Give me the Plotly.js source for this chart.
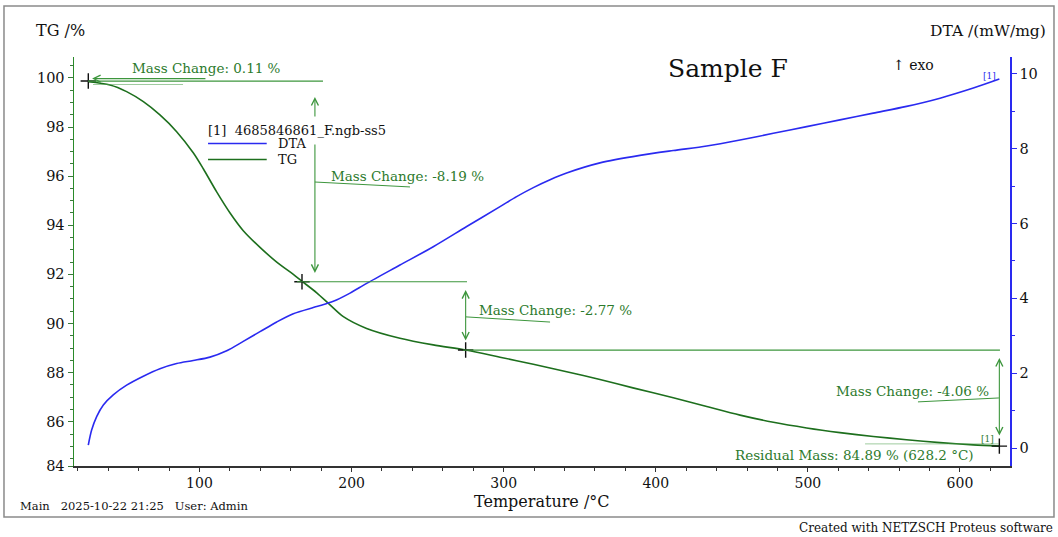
<!DOCTYPE html>
<html>
<head>
<meta charset="utf-8">
<script src="https://cdn.plot.ly/plotly-3.0.1.min.js"></script>
<style>
html,body{margin:0;padding:0;background:#ffffff;}
#chart{width:1058px;height:537px;}
</style>
</head>
<body>
<div id="chart"></div>
<script>
// ---- data ----
const tgTemp = [26.9, 41.2, 52.1, 63.1, 74.0, 85.0, 95.9, 102.5, 111.3, 120.1, 128.8, 139.8, 150.8, 161.7, 167.4, 177.1, 185.8, 194.6, 209.9, 231.8, 253.7, 275.0, 297.6, 319.5, 341.4, 363.3, 385.0, 411.5, 433.5, 455.4, 477.3, 499.2, 521.1, 543.0, 564.9, 586.9, 608.8, 625.9];
const tgMass = [99.84, 99.71, 99.44, 99.03, 98.49, 97.81, 96.95, 96.30, 95.36, 94.50, 93.78, 93.10, 92.50, 92.00, 91.72, 91.25, 90.76, 90.28, 89.80, 89.40, 89.13, 88.92, 88.63, 88.34, 88.04, 87.72, 87.38, 86.98, 86.62, 86.27, 85.98, 85.75, 85.56, 85.40, 85.27, 85.15, 85.06, 85.01];
const dtaTemp = [26.9, 29.1, 32.4, 36.8, 43.3, 52.1, 63.1, 74.0, 85.0, 95.9, 106.9, 117.9, 128.8, 139.8, 150.8, 161.7, 177.1, 188.0, 199.0, 209.9, 231.8, 253.7, 275.7, 297.6, 308.5, 319.5, 330.5, 341.4, 363.3, 389.6, 411.5, 433.5, 455.4, 477.3, 499.2, 521.1, 543.0, 564.9, 586.9, 608.8, 625.9];
const dtaSignal = [0.08, 0.48, 0.84, 1.15, 1.42, 1.68, 1.92, 2.12, 2.26, 2.34, 2.43, 2.60, 2.85, 3.11, 3.37, 3.59, 3.78, 3.92, 4.14, 4.40, 4.89, 5.38, 5.92, 6.45, 6.72, 6.96, 7.17, 7.35, 7.62, 7.82, 7.95, 8.07, 8.23, 8.41, 8.59, 8.77, 8.95, 9.13, 9.35, 9.62, 9.86];
const stepTemp = [26.9, 167.4, 275.0, 625.9];
const stepMass = [99.87, 91.70, 88.92, 85.01];
const massChange = ['0.11', '-8.19', '-2.77', '-4.06'];
const residualMass = '84.89';
const residualTemp = '628.2';
const tempTicks = [100, 200, 300, 400, 500, 600];
const tgTicks = [84, 86, 88, 90, 92, 94, 96, 98, 100];
const dtaTicks = [0, 2, 4, 6, 8, 10];
const seriesNames = ['DTA', 'TG'];
const fileName = '4685846861_F.ngb-ss5';
const sampleName = 'Sample F';

// ---- styling ----
const SERIF = '"DejaVu Serif", "Liberation Serif", serif';
const TG_COLOR = '#1d6f1d';
const DTA_COLOR = '#2a2af0';
const ANN_COLOR = '#2c7a2c';
const CON_COLOR = '#3d963d';
const xRange = [17.5, 632.9];
const tgRange = [84.2, 100.85];
const dtaRange = [-0.48, 10.45];

const traces = [
  {x: dtaTemp, y: dtaSignal, yaxis: 'y2', type: 'scatter', mode: 'lines', name: seriesNames[0],
   line: {color: DTA_COLOR, width: 1.6, shape: 'spline', smoothing: 0.8}},
  {x: tgTemp, y: tgMass, yaxis: 'y', type: 'scatter', mode: 'lines', name: seriesNames[1],
   line: {color: TG_COLOR, width: 1.6, shape: 'spline', smoothing: 0.8}},
  {x: stepTemp, y: stepMass, yaxis: 'y', type: 'scatter', mode: 'markers', name: 'steps',
   marker: {symbol: 'cross-thin', size: 11, line: {color: '#111111', width: 1.4}}}
];

function hline(y, x0, x1, color, width) {
  return {type: 'line', xref: 'x', yref: 'y', x0: x0, x1: x1, y0: y, y1: y,
          line: {color: color || CON_COLOR, width: width || 1.2}};
}
function seg(x0, y0, x1, y1, color) {
  return {type: 'line', xref: 'x', yref: 'y', x0: x0, x1: x1, y0: y0, y1: y1,
          line: {color: color || CON_COLOR, width: 1}};
}
function legendLine(y, color) {
  return {type: 'line', xref: 'paper', yref: 'paper', x0: 0.1432, x1: 0.2059, y0: y, y1: y,
          line: {color: color, width: 1.6}};
}
const shapes = [
  // outer frame
  {type: 'rect', xref: 'paper', yref: 'paper', x0: -0.0748, x1: 1.0470, y0: -0.1247, y1: 1.1247,
   line: {color: '#8a8a8a', width: 1.5}, fillcolor: 'rgba(0,0,0,0)'},
  hline(stepMass[0], 26.7, 181.2),
  seg(30.0, 99.73, 89.2, 99.73, 'rgba(80,160,80,0.55)'),
  hline(stepMass[1], 164.1, 275.9),
  hline(stepMass[2], 273.3, 626.3),
  seg(175.9, 95.76, 238.4, 95.56),
  seg(275.2, 90.27, 330.5, 90.06),
  seg(625.6, 86.97, 572.4, 86.81),
  seg(537.6, 85.10, 625.6, 85.10, 'rgba(80,160,80,0.55)'),
  // legend sample lines
  legendLine(0.7885, DTA_COLOR),
  legendLine(0.7494, TG_COLOR)
];

function arrow(x, yHead, yTail, both) {
  return {xref: 'x', yref: 'y', axref: 'x', ayref: 'y', x: x, y: yHead, ax: x, ay: yTail,
          text: '', showarrow: true, arrowhead: 5, startarrowhead: 5, arrowsize: 1.25, startarrowsize: 1.25,
          arrowwidth: 1.1, arrowcolor: CON_COLOR, arrowside: both ? 'end+start' : 'end', standoff: 0, startstandoff: 0};
}
function label(text, x, y, xanchor, opts) {
  return Object.assign({xref: 'x', yref: 'y', x: x, y: y, text: text, showarrow: false,
          xanchor: xanchor, yanchor: 'middle', font: {family: SERIF, size: 13.5, color: ANN_COLOR}}, opts || {});
}
function ptext(text, x, y, xanchor, size, color) {
  return {xref: 'paper', yref: 'paper', x: x, y: y, text: text, showarrow: false,
          xanchor: xanchor, yanchor: 'middle', font: {family: SERIF, size: size, color: color || '#111111'}};
}

const annotations = [
  // mass change 1 (start)
  label('Mass Change: ' + massChange[0] + ' %', 104.9, 100.40, 'center'),
  {xref: 'x', yref: 'y', axref: 'x', ayref: 'y', x: 29.4, y: 99.97, ax: 104.9, ay: 99.97, text: '', showarrow: true,
   arrowhead: 5, arrowsize: 1.25, arrowwidth: 1.1, arrowcolor: CON_COLOR, standoff: 0},
  // mass change 2
  arrow(175.9, 99.22, 98.37, false),
  arrow(175.9, 92.06, 97.35, false),
  label('Mass Change: ' + massChange[1] + ' %', 185.1, 96.0, 'left'),
  // mass change 3
  arrow(275.0, 91.36, 89.25, true),
  label('Mass Change: ' + massChange[2] + ' %', 282.3, 90.55, 'left'),
  // mass change 4
  arrow(625.9, 88.60, 85.38, true),
  label('Mass Change: ' + massChange[3] + ' %', 620.2, 87.27, 'right'),
  // residual
  label('Residual Mass: ' + residualMass + ' % (' + residualTemp + ' °C)', 610.5, 84.65, 'right'),
  label('[1]', 618.4, 85.28, 'center', {font: {family: SERIF, size: 9, color: ANN_COLOR}}),
  {xref: 'x', yref: 'y2', x: 619.7, y: 9.95, text: '[1]', showarrow: false, xanchor: 'center', yanchor: 'middle',
   font: {family: SERIF, size: 9, color: DTA_COLOR}},
  // legend texts
  ptext('[1]  ' + fileName, 0.1415, 0.8215, 'left', 13),
  ptext(seriesNames[0], 0.2158, 0.7885, 'left', 13),
  ptext(seriesNames[1], 0.2158, 0.7494, 'left', 13),
  // titles and texts
  ptext('TG /%', -0.0139, 1.0636, 'center', 16),
  ptext('DTA /(mW/mg)', 1.0406, 1.0636, 'right', 15.5),
  ptext('Temperature /°C', 0.5, -0.0856, 'center', 16),
  ptext(sampleName, 0.6987, 0.9731, 'center', 25),
  ptext('↑ exo', 0.8974, 0.9804, 'center', 14),
  ptext('Main   2025-10-22 21:25   User: Admin', -0.0598, -0.0978, 'left', 11.5),
  ptext('Created with NETZSCH Proteus software', 1.0481, -0.1516, 'right', 12)
];

const layout = {
  width: 1058, height: 537, autosize: false,
  margin: {l: 74, r: 48, t: 57, b: 71, pad: 0},
  paper_bgcolor: '#ffffff', plot_bgcolor: '#ffffff',
  font: {family: SERIF, size: 14, color: '#111111'},
  showlegend: false,
  xaxis: {range: xRange, tickvals: tempTicks, ticktext: tempTicks.map(String), showgrid: false, zeroline: false,
          showline: true, linecolor: '#333333', linewidth: 1.5, ticks: 'outside', ticklen: 4, tickcolor: '#333333',
          tickfont: {family: SERIF, size: 14, color: '#111111'},
          minor: {dtick: 20, tick0: 0, ticks: 'outside', ticklen: 3, tickcolor: '#333333'}},
  yaxis: {range: tgRange, tickvals: tgTicks.map(v => Math.max(v, tgRange[0])), ticktext: tgTicks.map(String),
          showgrid: false, zeroline: false, showline: true, linecolor: '#2a8a2a', linewidth: 1.5,
          ticks: 'outside', ticklen: 5, tickcolor: '#3a7a3a', tickfont: {family: SERIF, size: 14.5, color: '#111111'},
          minor: {dtick: 0.5, tick0: 0, ticks: 'outside', ticklen: 2.5, tickcolor: '#3a7a3a'}},
  yaxis2: {range: dtaRange, overlaying: 'y', side: 'right', tickvals: dtaTicks, ticktext: dtaTicks.map(String),
           showgrid: false, zeroline: false, showline: true, linecolor: DTA_COLOR, linewidth: 1.5,
           ticks: 'outside', ticklen: 5, tickcolor: DTA_COLOR, tickfont: {family: SERIF, size: 14.5, color: '#111111'},
           minor: {dtick: 1, tick0: 0, ticks: 'outside', ticklen: 3, tickcolor: DTA_COLOR}},
  shapes: shapes,
  annotations: annotations
};

Plotly.newPlot('chart', traces, layout, {staticPlot: true, displayModeBar: false});
</script>
</body>
</html>
